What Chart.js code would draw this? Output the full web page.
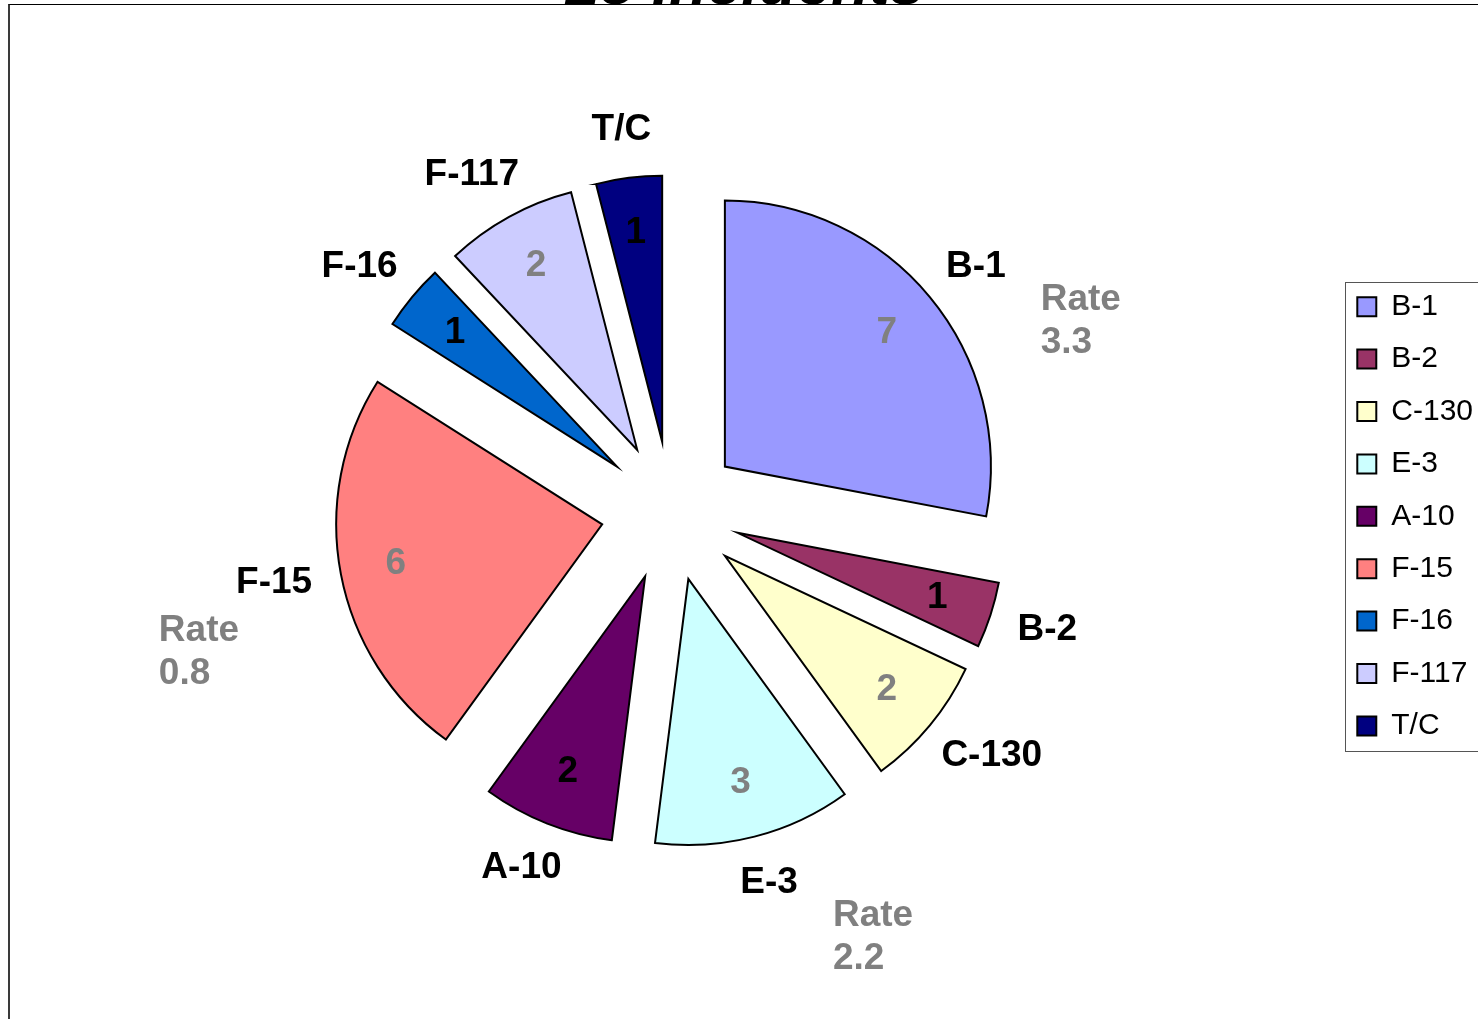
<!DOCTYPE html>
<html lang="en">
<head>
<meta charset="UTF-8" />
<title>25 Incidents</title>
<script src="https://cdn.jsdelivr.net/npm/chart.js"></script>
<style>
  html, body { margin: 0; padding: 0; background: #fff; overflow: hidden; }
  body { width: 1478px; height: 1019px; position: relative; }
  #wrap { position: absolute; left: 0; top: -50px; width: 1478px; height: 1075px; }
  #frame {
    position: absolute; left: 8px; top: 4px; width: 1600px; height: 1100px;
    border-left: 2px solid #3a3a3a; border-top: 1px solid #000;
    pointer-events: none;
  }
</style>
</head>
<body>
<div id="wrap"><canvas id="chart"></canvas></div>
<div id="frame"></div>
<script>
  const aircraft = ['B-1', 'B-2', 'C-130', 'E-3', 'A-10', 'F-15', 'F-16', 'F-117', 'T/C'];
  const incidents = [7, 1, 2, 3, 2, 6, 1, 2, 1];
  const rates = [3.3, null, null, 2.2, null, 0.8, null, null, null];

  // styles
  const sliceColors = ['#9999FF', '#993366', '#FFFFCC', '#CCFFFF', '#660066', '#FF8080', '#0066CC', '#CCCCFF', '#000080'];
  const valueColors = ['#808080', '#000', '#808080', '#808080', '#000', '#808080', '#000', '#808080', '#000'];
  const EXPLODE = 70;
  const LABEL_FONT = 'bold 37px Arial, "Liberation Sans", sans-serif';

  Chart.defaults.font.family = 'Arial, "Liberation Sans", sans-serif';

  // pull every slice out from the centre along its mid angle
  const explodePlugin = {
    id: 'explode',
    afterDatasetUpdate(chart, args) {
      args.meta.data.forEach(arc => {
        const mid = (arc.startAngle + arc.endAngle) / 2;
        arc.x += Math.cos(mid) * EXPLODE;
        arc.y += Math.sin(mid) * EXPLODE;
      });
    }
  };

  const labelPlugin = {
    id: 'sliceLabels',
    afterDatasetsDraw(chart) {
      const ctx = chart.ctx;
      const meta = chart.getDatasetMeta(0);
      ctx.save();
      ctx.textBaseline = 'middle';
      ctx.font = LABEL_FONT;
      meta.data.forEach((arc, i) => {
        const mid = (arc.startAngle + arc.endAngle) / 2;
        const r = arc.outerRadius;
        const dx = Math.cos(mid), dy = Math.sin(mid);

        // value inside the slice
        ctx.textAlign = 'center';
        ctx.fillStyle = valueColors[i];
        ctx.fillText(String(incidents[i]), arc.x + dx * r * 0.79, arc.y + dy * r * 0.79);

        // category name just outside the rim
        const w = ctx.measureText(aircraft[i]).width;
        const h = 36;
        const lx = arc.x + dx * (r + 30) + dx * w / 2;
        const ly = arc.y + dy * (r + 30) + dy * h / 2;
        ctx.fillStyle = '#000';
        ctx.fillText(aircraft[i], lx, ly);

        if (rates[i] !== null) {
          ctx.fillStyle = '#808080';
          ctx.textAlign = 'left';
          const rw = ctx.measureText('Rate').width;
          let rx, ry;
          if (dx >= 0) {
            rx = lx + w / 2 + 35;
            ry = ly + 33;
          } else {
            rx = lx - w / 2 + 3 - rw;
            ry = ly + 48;
          }
          ctx.fillText('Rate', rx, ry);
          ctx.fillText(rates[i].toFixed(1), rx, ry + 43);
        }
      });
      ctx.restore();
    }
  };

  const legendBox = {
    id: 'legendBox',
    afterDraw(chart) {
      const hb = chart.legend.legendHitBoxes;
      if (!hb || !hb.length) return;
      const first = hb[0], last = hb[hb.length - 1];
      const left = Math.round(first.left - 12) + 0.5;
      const top = Math.round(first.top + first.height / 2 - 25) + 0.5;
      const bottom = Math.round(last.top + last.height / 2 + 25) + 0.5;
      const ctx = chart.ctx;
      ctx.save();
      ctx.strokeStyle = '#555';
      ctx.lineWidth = 1;
      ctx.strokeRect(left, top, chart.width, bottom - top);
      ctx.restore();
    }
  };

  new Chart(document.getElementById('chart'), {
    type: 'pie',
    data: {
      labels: aircraft,
      datasets: [{
        data: incidents,
        backgroundColor: sliceColors,
        borderColor: '#000',
        borderWidth: 2,
        borderJoinStyle: 'miter'
      }]
    },
    options: {
      responsive: true,
      maintainAspectRatio: false,
      animation: false,
      events: [],
      radius: 266,
      layout: { padding: { left: 7, right: -5, top: 0, bottom: 27 } },
      plugins: {
        tooltip: { enabled: false },
        title: {
          display: true,
          text: '25 Incidents',
          color: '#000',
          padding: 0,
          font: { size: 62, weight: 'bold', style: 'italic' }
        },
        legend: {
          position: 'right',
          fullSize: false,
          title: { display: true, text: '', padding: { top: 0, bottom: 9 }, font: { size: 1 } },
          labels: {
            color: '#000',
            boxWidth: 19,
            boxHeight: 19,
            padding: 22.4,
            font: { size: 30 }
          }
        }
      }
    },
    plugins: [explodePlugin, labelPlugin, legendBox]
  });
</script>
</body>
</html>
